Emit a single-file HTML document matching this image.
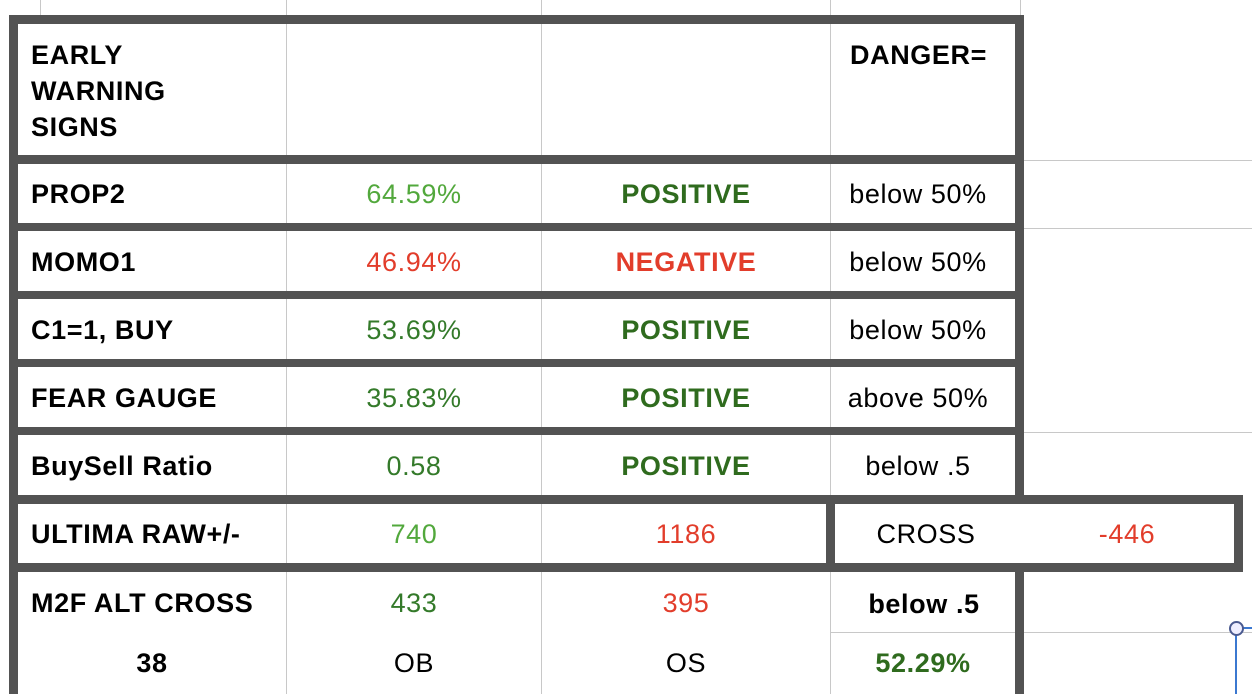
<!DOCTYPE html>
<html><head><meta charset="utf-8"><style>
body{margin:0;width:1252px;height:694px;overflow:hidden;background:#fff;font-family:"Liberation Sans",Arial,sans-serif;position:relative}
.b{position:absolute;background:#535353}
.g{position:absolute;background:#c8c8c8}
.t{position:absolute;font-size:27px;letter-spacing:0.6px;line-height:30px;white-space:nowrap;transform:translateY(-50%)}
.c{transform:translate(-50%,-50%);text-align:center}
.bold{font-weight:bold}
.lg{color:#52a83c}.dg{color:#347a2a}.rd{color:#e23d2b}.pg{color:#2f6b1e;font-weight:bold}
</style></head><body>
<div class="g" style="left:40px;top:0;width:1px;height:15px"></div>
<div class="g" style="left:286px;top:0;width:1px;height:694px"></div>
<div class="g" style="left:541px;top:0;width:1px;height:694px"></div>
<div class="g" style="left:830px;top:0;width:1px;height:694px"></div>
<div class="g" style="left:1020px;top:0;width:1px;height:496px"></div>
<div class="g" style="left:1020px;top:572px;width:1px;height:122px"></div>
<div class="g" style="left:1020px;top:160px;width:232px;height:1px"></div>
<div class="g" style="left:1020px;top:228px;width:232px;height:1px"></div>
<div class="g" style="left:1020px;top:432px;width:232px;height:1px"></div>
<div class="g" style="left:831px;top:632px;width:421px;height:1px"></div>
<div class="b" style="left:9px;top:15px;width:9px;height:679px"></div>
<div class="b" style="left:1015px;top:15px;width:9px;height:481px"></div>
<div class="b" style="left:1015px;top:572px;width:9px;height:122px"></div>
<div class="b" style="left:9px;top:15px;width:1015px;height:9px"></div>
<div class="b" style="left:9px;top:155px;width:1015px;height:9px"></div>
<div class="b" style="left:9px;top:223px;width:1015px;height:8px"></div>
<div class="b" style="left:9px;top:291px;width:1015px;height:8px"></div>
<div class="b" style="left:9px;top:359px;width:1015px;height:8px"></div>
<div class="b" style="left:9px;top:427px;width:1015px;height:8px"></div>
<div class="b" style="left:9px;top:495px;width:1234px;height:9px"></div>
<div class="b" style="left:9px;top:563px;width:1234px;height:9px"></div>
<div class="b" style="left:826px;top:495px;width:9px;height:77px"></div>
<div class="b" style="left:1234px;top:495px;width:9px;height:77px"></div>
<div style="position:absolute;left:1235px;top:628px;width:2px;height:66px;background:#3b78d0"></div>
<div style="position:absolute;left:1237px;top:627px;width:15px;height:2px;background:#3b78d0"></div>
<div style="position:absolute;left:1229px;top:621px;width:11px;height:11px;border:2px solid #4a5a90;border-radius:50%;background:#eef"></div>

<div class="t bold" style="left:31px;top:91px;line-height:36px">EARLY<br>WARNING<br>SIGNS</div>
<div class="t bold" style="left:850px;top:55px">DANGER=</div>

<div class="t bold" style="left:31px;top:194px">PROP2</div>
<div class="t c lg" style="left:414px;top:194px">64.59%</div>
<div class="t c pg" style="left:686px;top:194px">POSITIVE</div>
<div class="t c" style="left:918px;top:194px">below 50%</div>

<div class="t bold" style="left:31px;top:262px">MOMO1</div>
<div class="t c rd" style="left:414px;top:262px">46.94%</div>
<div class="t c rd bold" style="left:686px;top:262px">NEGATIVE</div>
<div class="t c" style="left:918px;top:262px">below 50%</div>

<div class="t bold" style="left:31px;top:330px">C1=1, BUY</div>
<div class="t c dg" style="left:414px;top:330px">53.69%</div>
<div class="t c pg" style="left:686px;top:330px">POSITIVE</div>
<div class="t c" style="left:918px;top:330px">below 50%</div>

<div class="t bold" style="left:31px;top:398px">FEAR GAUGE</div>
<div class="t c dg" style="left:414px;top:398px">35.83%</div>
<div class="t c pg" style="left:686px;top:398px">POSITIVE</div>
<div class="t c" style="left:918px;top:398px">above 50%</div>

<div class="t bold" style="left:31px;top:466px">BuySell Ratio</div>
<div class="t c dg" style="left:414px;top:466px">0.58</div>
<div class="t c pg" style="left:686px;top:466px">POSITIVE</div>
<div class="t c" style="left:918px;top:466px">below .5</div>

<div class="t bold" style="left:31px;top:534px">ULTIMA RAW+/-</div>
<div class="t c lg" style="left:414px;top:534px">740</div>
<div class="t c rd" style="left:686px;top:534px">1186</div>
<div class="t c" style="left:926px;top:534px">CROSS</div>
<div class="t c rd" style="left:1127px;top:534px">-446</div>

<div class="t bold" style="left:31px;top:603px">M2F ALT CROSS</div>
<div class="t c dg" style="left:414px;top:603px">433</div>
<div class="t c rd" style="left:686px;top:603px">395</div>
<div class="t c bold" style="left:924px;top:604px">below .5</div>

<div class="t c bold" style="left:152px;top:663px">38</div>
<div class="t c" style="left:414px;top:663px">OB</div>
<div class="t c" style="left:686px;top:663px">OS</div>
<div class="t c pg" style="left:923px;top:663px">52.29%</div>
</body></html>
